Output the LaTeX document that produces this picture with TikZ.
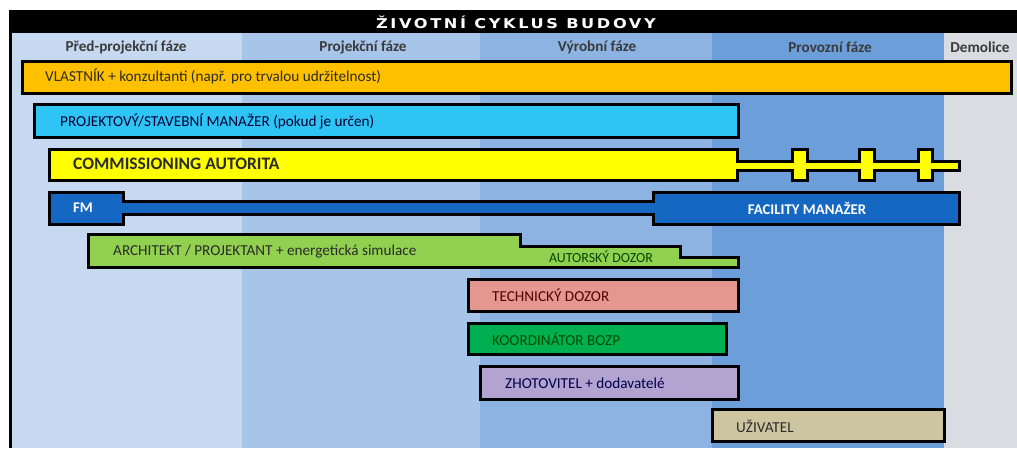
\documentclass[tikz,border=0pt]{standalone}
\usepackage{fontspec}
\setmainfont{Carlito}
\newfontfamily\titlefont{DejaVu Sans}[LetterSpace=16]
\definecolor{colA}{HTML}{C6D9F1}
\definecolor{colB}{HTML}{A7C4E9}
\definecolor{colC}{HTML}{8DB3E2}
\definecolor{colD}{HTML}{6C9EDA}
\definecolor{colE}{HTML}{D9DCE0}
\definecolor{owner}{HTML}{FFC000}
\definecolor{pm}{HTML}{2EC5F5}
\definecolor{cxa}{HTML}{FFFF00}
\definecolor{fmblue}{HTML}{1468C2}
\definecolor{arch}{HTML}{92D050}
\definecolor{tdz}{HTML}{E4978F}
\definecolor{bozp}{HTML}{00B050}
\definecolor{zhot}{HTML}{B3A3D0}
\definecolor{usr}{HTML}{CDC5A0}
\definecolor{ink}{HTML}{2B2B2B}
\definecolor{headink}{HTML}{3A3A3A}
\begin{document}
\begin{tikzpicture}[x=1pt,y=-1pt,
  bar/.style={draw=black, line width=3pt, line join=miter},
  lbl/.style={anchor=west, inner sep=0pt, font=\fontsize{15.2}{17}\selectfont, text=ink},
  head/.style={inner sep=0pt, font=\bfseries\fontsize{15.2}{17}\selectfont, text=headink},
  whitelbl/.style={inner sep=0pt, text=white, font=\bfseries\fontsize{14.8}{17}\selectfont}]
\useasboundingbox (0,0) rectangle (1017,448);
\fill[white] (0,0) rectangle (1017,448);
% phase columns
\fill[colA] (10,33) rectangle (242,448);
\fill[colB] (242,33) rectangle (480,448);
\fill[colC] (480,33) rectangle (712,448);
\fill[colD] (712,33) rectangle (944,448);
\fill[colE] (944,33) rectangle (1017,448);
% title bar and frame
\fill[black] (8.5,10) rectangle (1017,33);
\draw[line width=3pt] (10,33) -- (10,448);
\node[text=white, inner sep=0pt, font=\titlefont\bfseries\fontsize{13.5}{15}\selectfont] (title) at (516,22) {\scalebox{1.2}[1]{ŽIVOTNÍ CYKLUS BUDOVY}};
% phase headings
\node[head] (h1) at (126,47) {Před-projekční fáze};
\node[head] (h2) at (363,47) {Projekční fáze};
\node[head] (h3) at (597,47) {Výrobní fáze};
\node[head] (h4) at (830,47) {Provozní fáze};
\node[head] (h5) at (980,47) {Demolice};
% owner
\draw[bar, fill=owner] (22.5,61.5) rectangle (1011.5,93.5);
\node[lbl] (owner) at (45,76) {VLASTNÍK + konzultanti (např. pro trvalou udržitelnost)};
% project / construction manager
\draw[bar, fill=pm] (34.5,104.5) rectangle (738.5,137.5);
\node[lbl, text=black!80!blue] (pm) at (60,121) {PROJEKTOVÝ/STAVEBNÍ MANAŽER (pokud je určen)};
% commissioning authority with periodic checks
\draw[bar, fill=cxa] (49.5,149.5) -- (737.5,149.5) -- (737.5,161)
  -- (792.5,161) -- (792.5,149.5) -- (807.5,149.5) -- (807.5,161)
  -- (859,161) -- (859,149.5) -- (874,149.5) -- (874,161)
  -- (918,161) -- (918,149.5) -- (932.5,149.5) -- (932.5,161)
  -- (959.5,161) -- (959.5,170.5) -- (932.5,170.5) -- (932.5,180.5)
  -- (918,180.5) -- (918,170.5) -- (874,170.5) -- (874,180.5)
  -- (859,180.5) -- (859,170.5) -- (807.5,170.5) -- (807.5,180.5)
  -- (792.5,180.5) -- (792.5,170.5) -- (737.5,170.5) -- (737.5,180.5)
  -- (49.5,180.5) -- cycle;
\node[lbl, font=\bfseries\fontsize{17.5}{19}\selectfont] (cxa) at (73,164) {COMMISSIONING AUTORITA};
% facility manager
\draw[bar, fill=fmblue] (49.5,192) -- (123.5,192) -- (123.5,201.5)
  -- (653.5,201.5) -- (653.5,192) -- (959.5,192) -- (959.5,224)
  -- (653.5,224) -- (653.5,214) -- (123.5,214) -- (123.5,224)
  -- (49.5,224) -- cycle;
\node[whitelbl, anchor=west] (fm) at (73,208) {FM};
\node[whitelbl] (fac) at (807,208) {FACILITY MANAŽER};
% architect / designer
\draw[bar, fill=arch] (88.5,234.5) -- (520.5,234.5) -- (520.5,246.5)
  -- (680.5,246.5) -- (680.5,257) -- (738,257) -- (738,267.5)
  -- (88.5,267.5) -- cycle;
\node[lbl] (arch) at (113,252) {ARCHITEKT / PROJEKTANT + energetická simulace};
\node[inner sep=0pt, text=black!60!green!70!black, font=\fontsize{13.9}{15}\selectfont] (dozor) at (601,257) {AUTORSKÝ DOZOR};
% site supervision
\draw[bar, fill=tdz] (468.5,279.5) rectangle (738.5,311.5);
\node[lbl, text=black!65!red] (tdz) at (492,295) {TECHNICKÝ DOZOR};
% health and safety coordinator
\draw[bar, fill=bozp] (468.5,323.5) rectangle (726.5,354.5);
\node[lbl, text=black!70!green] (bozp) at (492,339.5) {KOORDINÁTOR BOZP};
% contractor
\draw[bar, fill=zhot] (480.5,366.5) rectangle (738.5,399.5);
\node[lbl, text=black!70!blue] (zhot) at (505,383) {ZHOTOVITEL + dodavatelé};
% user
\draw[bar, fill=usr] (712.5,409.5) rectangle (944.5,441.5);
\node[lbl] (usr) at (736,426) {UŽIVATEL};
\end{tikzpicture}
\end{document}
